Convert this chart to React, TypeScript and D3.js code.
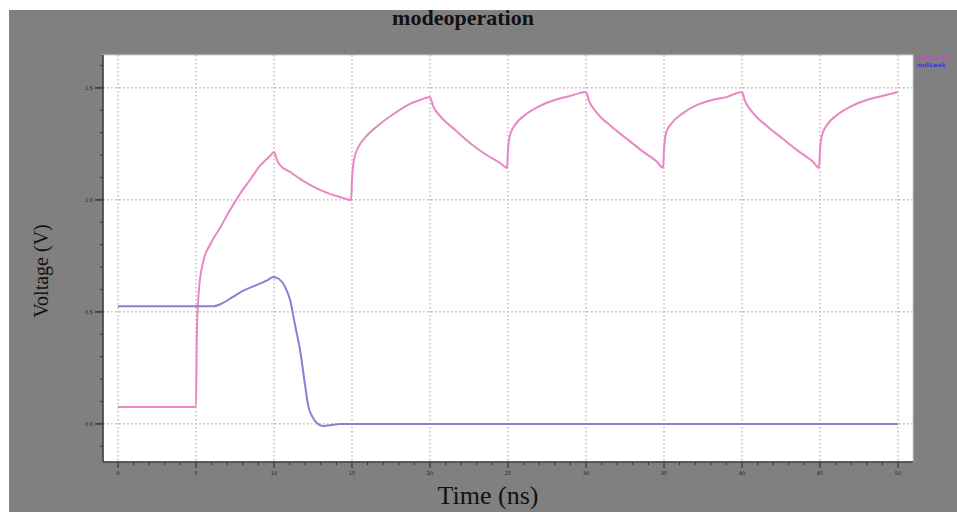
import React from "react";
import * as d3 from "d3";

// time (ns) / voltage (V)
const outT = [0, 5, 5.06, 5.19, 5.45, 5.9, 6.54, 7.18, 7.82, 8.46, 9.1, 9.74, 10, 10.19, 10.38, 11.03, 11.67, 12.31, 12.95, 13.59, 14.23, 14.94,
  15, 15.13, 15.38, 15.83, 16.79, 17.76, 18.72, 19.36, 20, 20.19, 20.64, 21.6, 22.56, 23.53, 24.49, 24.94,
  25, 25.13, 25.45, 26.09, 27.05, 28.01, 28.97, 30, 30.19, 30.71, 31.67, 32.63, 33.59, 34.55, 34.94,
  35, 35.13, 35.45, 36.15, 37.12, 38.08, 39.04, 40, 40.19, 40.71, 41.67, 42.63, 43.59, 44.55, 44.94,
  45, 45.13, 45.45, 46.09, 47.05, 48.01, 48.97, 50];
const outV = [0.076, 0.076, 0.42, 0.6, 0.72, 0.8, 0.875, 0.955, 1.027, 1.089, 1.152, 1.196, 1.214, 1.179, 1.156, 1.125, 1.094, 1.067, 1.045, 1.027, 1.013, 1.0,
  1.089, 1.179, 1.232, 1.277, 1.339, 1.388, 1.429, 1.446, 1.46, 1.42, 1.375, 1.313, 1.254, 1.205, 1.165, 1.143,
  1.223, 1.29, 1.335, 1.379, 1.42, 1.446, 1.464, 1.482, 1.442, 1.388, 1.326, 1.272, 1.219, 1.17, 1.143,
  1.223, 1.299, 1.339, 1.384, 1.424, 1.446, 1.46, 1.482, 1.442, 1.388, 1.326, 1.272, 1.219, 1.17, 1.143,
  1.223, 1.29, 1.335, 1.379, 1.42, 1.446, 1.464, 1.482];

const leakT = [0, 6.09, 6.73, 7.37, 8.01, 8.91, 9.62, 9.94, 10.32, 10.71, 11.03, 11.35, 11.67, 11.99, 12.18, 12.5, 12.82, 13.14, 13.78, 14.2, 50];
const leakV = [0.525, 0.525, 0.54, 0.567, 0.594, 0.621, 0.643, 0.656, 0.647, 0.612, 0.554, 0.442, 0.33, 0.174, 0.085, 0.027, 0.0, -0.009, -0.004, 0, 0];

const xTicks = [0, 5, 10, 15, 20, 25, 30, 35, 40, 45, 50];
const yTicks = [0, 0.5, 1.0, 1.5];
const yTickLabels = ["0.0", "0.5", "1.0", "1.5"];
const seriesNames = ["/OutLeak1", "/outLeak"];

const W = 957;
const H = 512;
const plot = { left: 103, top: 55, right: 913, bottom: 462 };
const pink = "#e986c4";
const blue = "#8781d6";
const grid = "#c4a6a6";

const App = () => {
  const x = d3.scaleLinear().domain([-0.96, 50.96]).range([plot.left, plot.right]);
  const y = d3.scaleLinear().domain([-0.17, 1.647]).range([plot.bottom, plot.top]);

  const line = d3.line<[number, number]>()
    .x(d => x(d[0]))
    .y(d => y(d[1]))
    .curve(d3.curveMonotoneX);

  const outPts = outT.map((t, i) => [t, outV[i]] as [number, number]);
  const leakPts = leakT.map((t, i) => [t, leakV[i]] as [number, number]);

  const xMinor = d3.range(0, 51, 1).filter(t => t % 5 !== 0);
  const yMinor = d3.range(-1, 17, 1).map(v => v / 10).filter(v => Math.round(v * 10) % 5 !== 0 && y(v) >= plot.top && y(v) <= plot.bottom);

  return (
    <div style={{ position: "absolute", left: 0, top: 0 }}>
      <svg width={W} height={H} style={{ display: "block" }}>
        <rect x={0} y={0} width={W} height={H} fill="#ffffff" />
        <rect x={9} y={10} width={W - 9} height={H - 10} fill="#808080" />
        <rect x={plot.left} y={plot.top} width={plot.right - plot.left} height={plot.bottom - plot.top}
          fill="#ffffff" stroke="#d0d0d0" strokeWidth={1} />

        {/* grid */}
        {xTicks.map(t => (
          <line key={"gx" + t} x1={x(t)} x2={x(t)} y1={plot.top} y2={plot.bottom}
            stroke={grid} strokeWidth={1.3} strokeDasharray="1.5,2.5" />
        ))}
        {yTicks.map(v => (
          <line key={"gy" + v} x1={plot.left} x2={plot.right} y1={y(v)} y2={y(v)}
            stroke={grid} strokeWidth={1.3} strokeDasharray="1.5,2.5" />
        ))}

        {/* axes */}
        <line x1={plot.left} x2={plot.left} y1={plot.top} y2={plot.bottom} stroke="#333" strokeWidth={1.5} />
        <line x1={plot.left} x2={plot.right} y1={plot.bottom} y2={plot.bottom} stroke="#333" strokeWidth={1.5} />
        {xTicks.map(t => (
          <g key={"xt" + t}>
            <line x1={x(t)} x2={x(t)} y1={plot.bottom} y2={plot.bottom + 6} stroke="#333" strokeWidth={1.2} />
            <text x={x(t)} y={plot.bottom + 13} fontSize={5} fill="#222" textAnchor="middle" fontFamily="DejaVu Sans">{t}</text>
          </g>
        ))}
        {xMinor.map(t => (
          <line key={"xm" + t} x1={x(t)} x2={x(t)} y1={plot.bottom} y2={plot.bottom + 3} stroke="#333" strokeWidth={1} />
        ))}
        {yTicks.map((v, i) => (
          <g key={"yt" + v}>
            <line x1={plot.left - 8} x2={plot.left} y1={y(v)} y2={y(v)} stroke="#333" strokeWidth={1.5} />
            <text x={plot.left - 10} y={y(v) + 2} fontSize={5} fill="#222" textAnchor="end" fontFamily="DejaVu Sans">{yTickLabels[i]}</text>
          </g>
        ))}
        {yMinor.map(v => (
          <line key={"ym" + v} x1={plot.left - 3} x2={plot.left} y1={y(v)} y2={y(v)} stroke="#333" strokeWidth={1} />
        ))}

        {/* series */}
        <path d={line(outPts) || ""} fill="none" stroke={pink} strokeWidth={2} />
        <path d={line(leakPts) || ""} fill="none" stroke={blue} strokeWidth={2} />

        {/* legend */}
        <text x={916} y={60} fontSize={6} fontWeight="bold" fill="#d43fd0" fontFamily="DejaVu Sans">{seriesNames[0]}</text>
        <text x={916} y={67} fontSize={6} fontWeight="bold" fill="#3a3ac8" fontFamily="DejaVu Sans">{seriesNames[1]}</text>

        {/* titles */}
        <text x={463} y={25} fontSize={22} fontWeight="bold" textAnchor="middle" fill="#111"
          fontFamily="Liberation Serif">modeoperation</text>
        <text x={488} y={504} fontSize={26} textAnchor="middle" fill="#111"
          fontFamily="Liberation Serif">Time (ns)</text>
        <text transform={`translate(48,271) rotate(-90)`} fontSize={20} textAnchor="middle" fill="#111"
          fontFamily="Liberation Serif">Voltage (V)</text>
      </svg>
    </div>
  );
};

export default App;
